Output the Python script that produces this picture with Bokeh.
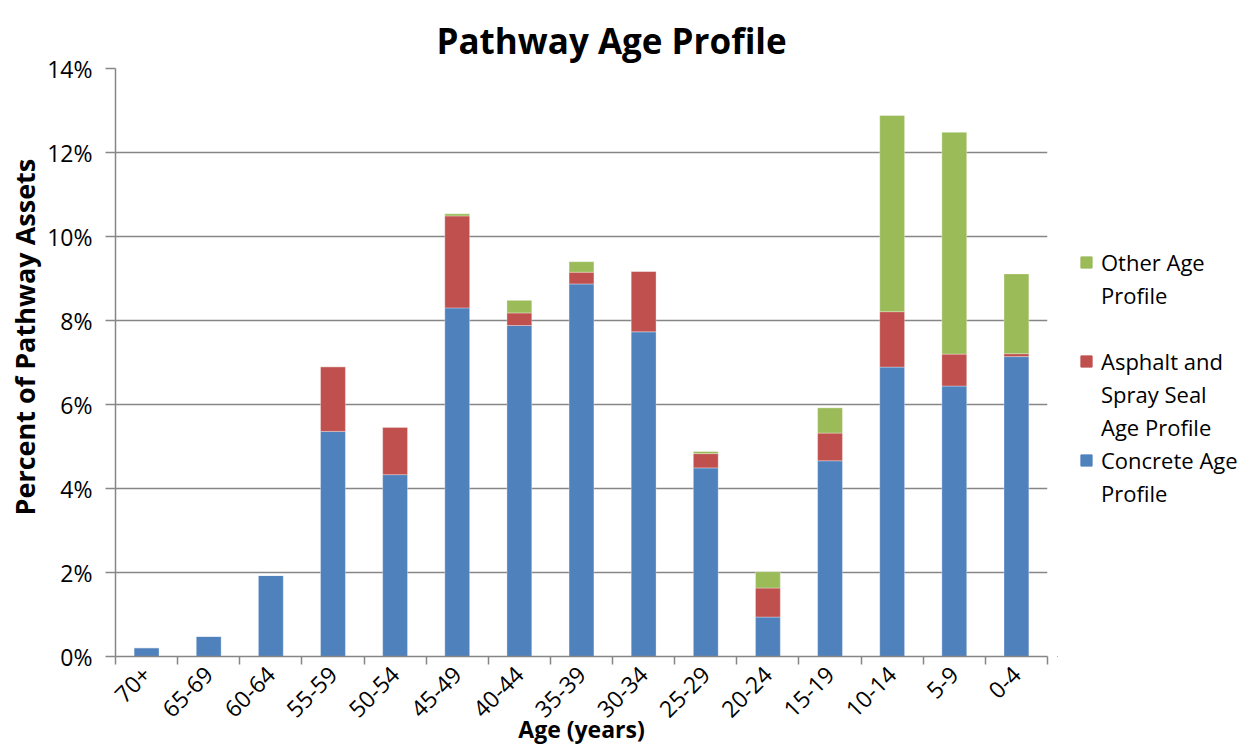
from math import pi

from bokeh.embed import file_html
from bokeh.layouts import row
from bokeh.models import (ColumnDataSource, FixedTicker, Legend, LegendItem,
                          PrintfTickFormatter, Range1d, Title)
from bokeh.plotting import figure
from bokeh.resources import INLINE

# Age bands, oldest to newest
age_bands = ["70+", "65-69", "60-64", "55-59", "50-54", "45-49", "40-44", "35-39",
             "30-34", "25-29", "20-24", "15-19", "10-14", "5-9", "0-4"]

# Share of pathway assets (%) by material
concrete = [0.21, 0.48, 1.93, 5.36, 4.33, 8.30, 7.88, 8.87, 7.73, 4.49, 0.94, 4.66, 6.89, 6.44, 7.14]
asphalt = [0.00, 0.00, 0.00, 1.54, 1.13, 2.19, 0.30, 0.28, 1.44, 0.34, 0.69, 0.66, 1.32, 0.76, 0.07]
other = [0.00, 0.00, 0.00, 0.00, 0.00, 0.05, 0.30, 0.25, 0.00, 0.05, 0.39, 0.60, 4.67, 5.28, 1.90]

series_names = ["Concrete Age Profile", "Asphalt and Spray Seal Age Profile", "Other Age Profile"]
series_colors = ["#4F81BD", "#C0504D", "#9BBB59"]

y_ticks = [0, 2, 4, 6, 8, 10, 12, 14]

FONT = "Open Sans"
GRAY = "#868686"

centers = [i + 0.5 for i in range(len(age_bands))]
source = ColumnDataSource(dict(x=centers, concrete=concrete, asphalt=asphalt, other=other))

p = figure(width=1057, height=747, output_backend="svg", toolbar_location=None,
           x_range=Range1d(0, len(age_bands)), y_range=Range1d(0, 14),
           min_border_left=115, min_border_right=10, min_border_top=68,
           min_border_bottom=90)

p.title.text = "Pathway Age Profile"
p.title.align = "left"
p.title.offset = 321
p.title.standoff = 10
p.title.text_line_height = 0.55
p.title.text_font = FONT
p.title.text_font_size = "35px"
p.title.text_font_style = "bold"
p.title.text_color = "black"

renderers = p.vbar_stack(["concrete", "asphalt", "other"], x="x", width=0.4, source=source,
                         color=series_colors,
                         line_color="white", line_alpha=0.4, line_width=0.8)

# axes
xa = p.xaxis[0]
xa.ticker = FixedTicker(ticks=centers, minor_ticks=list(range(len(age_bands) + 1)))
xa.major_label_overrides = {c: lab for c, lab in zip(centers, age_bands)}
xa.major_label_orientation = pi / 4
xa.major_tick_line_color = None
xa.major_tick_out = 0
xa.major_tick_in = 0
xa.minor_tick_in = 0
xa.minor_tick_out = 8
xa.minor_tick_line_color = GRAY
xa.minor_tick_line_width = 1.5
xa.major_label_standoff = 6
xa.major_label_text_font_size = "23px"
xa.axis_label = "Age (years)"
xa.axis_label_standoff = -15
xa.axis_label_text_font_size = "23px"
xa.axis_label_text_font = FONT
xa.axis_label_text_font_style = "bold"
xa.axis_label_text_color = "black"

ya = p.yaxis[0]
ya.ticker = FixedTicker(ticks=y_ticks)
ya.formatter = PrintfTickFormatter(format="%d%%")
ya.minor_tick_line_color = None
ya.major_tick_in = 0
ya.major_tick_out = 10
ya.major_tick_line_color = GRAY
ya.major_tick_line_width = 1.5
ya.major_label_standoff = 13
ya.major_label_text_font_size = "23px"

for ax in (xa, ya):
    ax.axis_line_color = GRAY
    ax.axis_line_width = 1.5
    ax.major_label_text_font = FONT
    ax.major_label_text_color = "black"

# vertical axis title, set a little above the frame's middle
y_title = Title(text="Percent of Pathway Assets", align="left", offset=141, standoff=4,
                text_font=FONT, text_font_size="27px", text_font_style="bold",
                text_line_height=0.8, text_color="black")
p.add_layout(y_title, "left")

p.xgrid.grid_line_color = None
p.ygrid.grid_line_color = GRAY
p.ygrid.grid_line_width = 1.5
p.ygrid.ticker = FixedTicker(ticks=y_ticks)
p.outline_line_color = None

# legend panel beside the chart; its swatch renderers sit outside the visible range
lg = figure(width=198, height=747, output_backend="svg", toolbar_location=None,
            x_range=Range1d(0, 1), y_range=Range1d(0, 1), min_border=0)
lg.axis.visible = False
lg.grid.visible = False
lg.outline_line_color = None

swatch = {name: lg.vbar(x=[-10], top=[-10], width=0.5, color=col)
          for name, col in zip(series_names, series_colors)}
blank = lg.vbar(x=[-10], top=[-10], width=0.5, fill_alpha=0, line_alpha=0)

legend_rows = [
    ("Other Age", swatch["Other Age Profile"]),
    ("Profile", blank),
    ("", blank),
    ("Asphalt and", swatch["Asphalt and Spray Seal Age Profile"]),
    ("Spray Seal", blank),
    ("Age Profile", blank),
    ("Concrete Age", swatch["Concrete Age Profile"]),
    ("Profile", blank),
]
legend = Legend(items=[LegendItem(label=t, renderers=[r]) for t, r in legend_rows],
                location=(22, 147))
legend.label_text_font = FONT
legend.label_text_font_size = "22px"
legend.label_text_color = "black"
legend.label_height = 33
legend.glyph_width = 14
legend.glyph_height = 14
legend.label_standoff = 8
legend.spacing = 0
legend.padding = 0
legend.margin = 0
legend.border_line_color = None
legend.background_fill_alpha = 0
lg.add_layout(legend)

open("out.html", "w").write(file_html(row(p, lg), INLINE))
